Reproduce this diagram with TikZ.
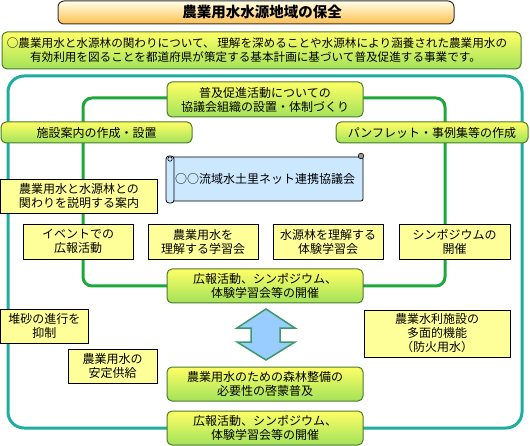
\documentclass[tikz,border=0pt]{standalone}
\usepackage{fontspec}
\setmainfont{Noto Sans CJK JP}
\definecolor{gtop}{HTML}{FFFF66}
\definecolor{gbot}{HTML}{A2E25A}
\definecolor{gborder}{HTML}{4B7A2A}
\definecolor{yfill}{HTML}{FFFF99}
\definecolor{tealline}{HTML}{1FAE9E}
\definecolor{greenline}{HTML}{1DA83A}
\definecolor{scrollblue}{HTML}{CCE8FF}
\definecolor{arrowblue}{HTML}{99CCFF}
\definecolor{arrowgreen}{HTML}{3A9A6A}
\definecolor{ttop}{HTML}{FFFFE8}
\definecolor{tbot}{HTML}{FFC050}
\begin{document}
\begin{tikzpicture}[x=1pt,y=-1pt,
 txt/.style={font=\fontsize{12}{14}\selectfont, align=center, inner sep=0pt},
 gbox/.style={txt, rectangle, rounded corners=5pt, draw=gborder, line width=1pt, top color=gtop, bottom color=gbot},
 ybox/.style={txt, rectangle, draw=black, line width=0.8pt, fill=yfill},
 tbox/.style={rectangle, rounded corners=6pt, draw=black!80, line width=1pt, top color=ttop, bottom color=tbot, inner sep=0pt, font=\fontsize{14.5}{16}\selectfont\bfseries},
 loopline/.style={line width=3pt}]
\useasboundingbox (0,0) rectangle (530,446);

% loops
\coordinate (t1) at (8,76); \coordinate (t2) at (522,428);
\coordinate (g1) at (83,98); \coordinate (g2) at (445,286);
\draw[loopline, tealline, rounded corners=16pt] (t1) rectangle (t2);
\draw[loopline, greenline, rounded corners=9pt] (g1) rectangle (g2);

% title and description
\node[tbox, minimum width=396pt, minimum height=23pt] (title) at (256,12.5) {\hspace*{12pt}農業用水水源地域の保全};
\node[gbox, minimum width=519pt, minimum height=37pt, font=\fontsize{11.6}{14}\selectfont] (desc) at (261.5,50.5)
 {\hspace*{-9pt}○農業用水と水源林の関わりについて、 理解を深めることや水源林により涵養された農業用水の\\
 \hspace*{-12pt}有効利用を図ることを都道府県が策定する基本計画に基づいて普及促進する事業です。};

% gradient boxes
\node[gbox, minimum width=196pt, minimum height=35pt] (fukyu) at (265,99.5) {普及促進活動についての\\協議会組織の設置・体制づくり};
\node[gbox, minimum width=191pt, minimum height=21pt] (shisetsu) at (96.5,132.5) {施設案内の作成・設置};
\node[gbox, minimum width=192pt, minimum height=21pt] (pamph) at (432,132.5) {パンフレット・事例集等の作成};
\node[gbox, minimum width=196pt, minimum height=34pt] (koho1) at (265,286) {広報活動、シンポジウム、\\体験学習会等の開催};
\node[gbox, minimum width=196pt, minimum height=34pt] (shinrin) at (265,384) {農業用水のための森林整備の\\必要性の啓蒙普及};
\node[gbox, minimum width=196pt, minimum height=34pt] (koho2) at (265,428) {広報活動、シンポジウム、\\体験学習会等の開催};

% scroll
\draw[fill=scrollblue, line width=0.8pt, rounded corners=2pt] (172,157) -- (363,157) -- (363,201) -- (172,201) -- cycle;
\draw[fill=scrollblue, line width=0.8pt, rounded corners=3pt] (166,156) rectangle (174,203);
\draw[line width=0.6pt] (170,159) circle (2.2pt);
\draw[fill=black!40, line width=0.6pt] (361,156) circle (2.8pt);
\node[txt] (scroll) at (265,179) {○○流域水土里ネット連携協議会};

% yellow boxes
\node[ybox, minimum width=157pt, minimum height=34pt] (annai) at (79,196) {農業用水と水源林との\\関わりを説明する案内};
\node[ybox, minimum width=110pt, minimum height=35pt] (event) at (78,241.5) {イベントでの\\広報活動};
\node[ybox, minimum width=110pt, minimum height=35pt] (gakushu) at (203,241.5) {農業用水を\\理解する学習会};
\node[ybox, minimum width=110pt, minimum height=35pt] (taiken) at (328,241.5) {水源林を理解する\\体験学習会};
\node[ybox, minimum width=111pt, minimum height=35pt] (sympo) at (454.5,241.5) {シンポジウムの\\開催};
\node[ybox, minimum width=88pt, minimum height=34pt] (taisa) at (44.5,326) {堆砂の進行を\\抑制};
\node[ybox, minimum width=89pt, minimum height=34pt] (antei) at (112.5,366) {農業用水の\\安定供給};
\node[ybox, minimum width=146pt, minimum height=47pt] (tamen) at (437,333.5) {農業水利施設の\\多面的機能\\（防火用水）};

% double arrow
\draw[fill=arrowblue, draw=arrowgreen, line width=1.5pt, line join=miter]
 (266,309) -- (295,328) -- (280,328) -- (280,342) -- (295,342) -- (266,360)
 -- (237,342) -- (251,342) -- (251,328) -- (237,328) -- cycle;
\end{tikzpicture}
\end{document}
